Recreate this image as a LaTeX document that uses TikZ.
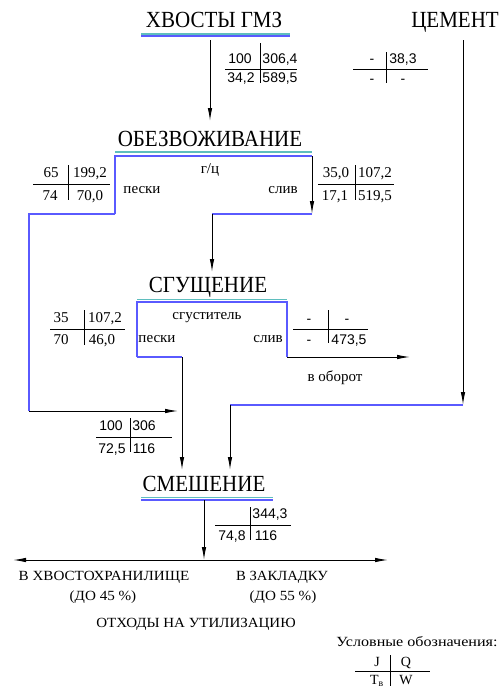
\documentclass[tikz,border=0pt]{standalone}
\usepackage{fontspec}
\usepackage{graphicx}
\setmainfont{Liberation Serif}
\newfontfamily\sansf{Liberation Sans}
\usetikzlibrary{arrows.meta}
\definecolor{lblue}{RGB}{90,90,255}
\definecolor{lteal}{RGB}{95,190,190}
\newcommand\xsc[2]{\scalebox{#1}[1]{#2}}
\newcommand\ysc[1]{\scalebox{1}[1.1]{#1}}
\tikzset{
  head/.style={font=\fontsize{21}{21}\selectfont, anchor=base, inner sep=0pt},
  lab/.style={font=\fontsize{15}{15}\selectfont, anchor=base, inner sep=0pt},
  bot/.style={font=\fontsize{14}{14}\selectfont, anchor=base, inner sep=0pt},
  sn/.style={font=\sansf\fontsize{14}{14}\selectfont, anchor=base, inner sep=0pt},
  rn/.style={font=\fontsize{15}{15}\selectfont, anchor=base, inner sep=0pt},
  bl/.style={draw=lblue, line width=2pt},
  ln/.style={draw=black, line width=1pt},
  arr/.style={ln, -{Latex[length=13pt,width=4.5pt]}},
  darr/.style={ln, {Latex[length=13pt,width=4.5pt]}-{Latex[length=13pt,width=4.5pt]}},
  tl/.style={draw=black, line width=0.8pt},
  ul1/.style={draw=lteal, line width=1.3pt},
  ul2/.style={draw=lblue, line width=1.3pt},
}
\begin{document}
\begin{tikzpicture}[x=1pt,y=-1pt]
\useasboundingbox[fill=white] (0,0) rectangle (500,691);
% headings
\node[head] (hv) at (214,27) {\ysc{ХВОСТЫ ГМЗ}};
\node[head] (cem) at (455,27) {\ysc{ЦЕМЕНТ}};
\node[head] (obz) at (210,146) {\ysc{ОБЕЗВОЖИВАНИЕ}};
\node[head] (sg) at (208,292) {\ysc{СГУЩЕНИЕ}};
\node[head] (sm) at (204,491) {\ysc{СМЕШЕНИЕ}};
% underlines
\draw[ul1] (141,34) -- (290,34);
\draw[ul2] (141,36) -- (290,36);
\draw[ul1] (115,152) -- (312,152);
\draw[ul1] (137,299.5) -- (287,299.5);
\draw[ul1] (141,497.5) -- (273,497.5);
\draw[ul2] (141,500) -- (273,500);
% coordinates
\coordinate (hvS) at (210,40);
\coordinate (obzN) at (210,121);
\coordinate (oTL) at (115,156);
\coordinate (oTR) at (312,156);
\coordinate (oL1) at (115,214);
\coordinate (oL2) at (29,214);
\coordinate (oL3) at (29,411);
\coordinate (smL) at (178,411);
\coordinate (oR1) at (312,214);
\coordinate (oR2) at (212,214);
\coordinate (sgN) at (212,272);
\coordinate (sTL) at (137,302);
\coordinate (sTR) at (287,302);
\coordinate (sL1) at (137,357);
\coordinate (sL2) at (182,357);
\coordinate (smA) at (182,470);
\coordinate (sR1) at (287,357);
\coordinate (obr) at (410,357);
\coordinate (cS) at (463,40);
\coordinate (c1) at (463,405);
\coordinate (c2) at (230,405);
\coordinate (smB) at (230,470);
\coordinate (smS) at (204,500);
\coordinate (sp) at (204,560);
\coordinate (spL) at (13,560);
\coordinate (spR) at (388,560);
% connectors
\draw[arr] (hvS) -- (obzN);
\draw[bl] (oL1) -- (oTL) -- (oTR);
\draw[bl] (oL1) -- (oL2) -- (oL3);
\draw[arr] (oL3) -- (smL);
\draw[arr] (oTR) -- (oR1);
\draw[bl] (oR1) -- (oR2);
\draw[arr] (oR2) -- (sgN);
\draw[bl] (sL1) -- (sTL) -- (sTR) -- (sR1);
\draw[bl] (sL1) -- (sL2);
\draw[arr] (sL2) -- (smA);
\draw[arr] (sR1) -- (obr);
\draw[arr] (cS) -- (c1);
\draw[bl] (c1) -- (c2);
\draw[arr] (c2) -- (smB);
\draw[arr] (smS) -- (sp);
\draw[darr] (spL) -- (spR);
% labels
\node[lab] (gc) at (210,173) {г/ц};
\node[lab] (op) at (142,193) {пески};
\node[lab] (os) at (283,193) {слив};
\node[lab] (sgs) at (207,319) {сгуститель};
\node[lab] (sp1) at (157,342) {пески};
\node[lab] (ss1) at (268,342) {слив};
\node[lab] (vob) at (335,381) {в оборот};
% table 1
\draw[tl] (225,69) -- (297,69); \draw[tl] (260,43) -- (260,83);
\node[sn] (t1a) at (240,63) {100};
\node[sn] (t1b) at (280,63) {306,4};
\node[sn] (t1c) at (241,82) {34,2};
\node[sn] (t1d) at (280,82) {589,5};
% table cement
\draw[tl] (353,69) -- (428,69); \draw[tl] (386,52) -- (386,83);
\node[sn] (t2a) at (372,63) {-};
\node[sn] (t2b) at (403,63) {38,3};
\node[sn] (t2c) at (372,83) {-};
\node[sn] (t2d) at (403,83) {-};
% table 3
\draw[tl] (33,184) -- (110,184); \draw[tl] (68,165) -- (68,200);
\node[rn] (t3a) at (51,177) {65};
\node[rn] (t3b) at (90,177) {199,2};
\node[rn] (t3c) at (50,200) {74};
\node[rn] (t3d) at (90,200) {70,0};
% table 4
\draw[tl] (318,184) -- (394,184); \draw[tl] (355,165) -- (355,200);
\node[rn] (t4a) at (336,177) {35,0};
\node[rn] (t4b) at (375,177) {107,2};
\node[rn] (t4c) at (335,200) {17,1};
\node[rn] (t4d) at (375,200) {519,5};
% table 5
\draw[tl] (50,329) -- (125,329); \draw[tl] (84,310) -- (84,345);
\node[rn] (t5a) at (61,322) {35};
\node[rn] (t5b) at (105,322) {107,2};
\node[rn] (t5c) at (61,344) {70};
\node[rn] (t5d) at (102,344) {46,0};
% table 6
\draw[tl] (293,329) -- (368,329); \draw[tl] (328,310) -- (328,343);
\node[sn] (t6a) at (309,323) {-};
\node[sn] (t6b) at (347,323) {-};
\node[sn] (t6c) at (309,344) {-};
\node[sn] (t6d) at (349,344) {473,5};
% table 7
\draw[tl] (96,437) -- (172,437); \draw[tl] (130,418) -- (130,452);
\node[sn] (t7a) at (111,430) {100};
\node[sn] (t7b) at (144,430) {306};
\node[sn] (t7c) at (112,453) {72,5};
\node[sn] (t7d) at (144,453) {116};
% table 8
\draw[tl] (215,525) -- (291,525); \draw[tl] (250,507) -- (250,540);
\node[sn] (t8b) at (270,518) {344,3};
\node[sn] (t8c) at (232,540) {74,8};
\node[sn] (t8d) at (266,540) {116};
% bottom texts
\node[bot] (bx) at (104,580) {\xsc{1.08}{В ХВОСТОХРАНИЛИЩЕ}};
\node[bot] (bx2) at (103,600) {\xsc{1.08}{(ДО 45 \%)}};
\node[bot] (bz) at (282,580) {\xsc{1.05}{В ЗАКЛАДКУ}};
\node[bot] (bz2) at (283,600) {\xsc{1.08}{(ДО 55 \%)}};
\node[bot] (ot) at (196,627) {\xsc{1.07}{ОТХОДЫ НА УТИЛИЗАЦИЮ}};
\node[bot] (uo) at (417,646) {\xsc{1.15}{Условные обозначения:}};
% legend
\draw[tl] (355,671) -- (430,671); \draw[tl] (390,655) -- (390,686);
\node[bot] (lj) at (377,666) {J};
\node[bot] (lq) at (406,666) {Q};
\node[bot] (lt) at (377,684) {T\textsubscript{в}};
\node[bot] (lw) at (406,684) {W};
\end{tikzpicture}
\end{document}
